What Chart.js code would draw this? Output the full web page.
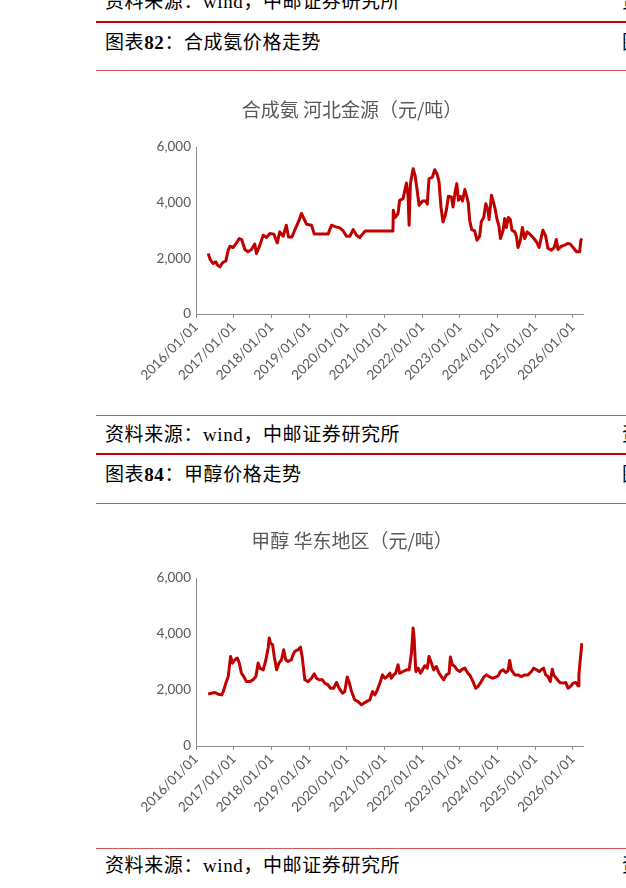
<!DOCTYPE html>
<html>
<head>
<meta charset="utf-8">
<script src="https://cdn.jsdelivr.net/npm/chart.js@4.4.1/dist/chart.umd.min.js"></script>
<style>
html, body { margin: 0; padding: 0; background: #fff; overflow: hidden; }
body { width: 626px; height: 888px; position: relative; font-family: "Liberation Serif", "Noto Sans CJK SC", serif; color: #000; }
.txt { position: absolute; font-size: 19px; line-height: 24px; white-space: nowrap; letter-spacing: 0.6px; }
.rule { position: absolute; left: 96px; width: 540px; }
.thick { height: 2px; background: #c00000; }
.thin { height: 1px; background: #d65a5a; }
.box { position: absolute; }
</style>
</head>
<body>

<div class="txt" style="left:105px; top:-10px;">资料来源：wind，中邮证券研究所</div>
<div class="txt" style="left:622px; top:-10px;">资料</div>
<div class="rule thick" style="top:21px;"></div>
<div class="txt" style="left:105px; top:31px;">图表<b>82</b>：合成氨价格走势</div>
<div class="txt" style="left:622px; top:31px;">图表</div>
<div class="rule thin" style="top:70px;"></div>

<div class="box" style="left:96px; top:86px;"><canvas id="c1" width="512" height="310"></canvas></div>

<div class="rule thin" style="top:415px;"></div>
<div class="txt" style="left:105px; top:423px;">资料来源：wind，中邮证券研究所</div>
<div class="txt" style="left:622px; top:423px;">资料</div>
<div class="rule thick" style="top:453px;"></div>
<div class="txt" style="left:105px; top:463px;">图表<b>84</b>：甲醇价格走势</div>
<div class="txt" style="left:622px; top:463px;">图表</div>
<div class="rule thin" style="top:503px;"></div>

<div class="box" style="left:96px; top:517px;"><canvas id="c2" width="512" height="311"></canvas></div>

<div class="rule thin" style="top:848px;"></div>
<div class="txt" style="left:105px; top:854px;">资料来源：wind，中邮证券研究所</div>
<div class="txt" style="left:622px; top:854px;">资料</div>

<script>
// x axis labels (one per year)
const yearTicks = ['2016/01/01', '2017/01/01', '2018/01/01', '2019/01/01', '2020/01/01', '2021/01/01',
    '2022/01/01', '2023/01/01', '2024/01/01', '2025/01/01', '2026/01/01'];
const yTicks = [0, 2000, 4000, 6000];

// 合成氨 河北金源
const nh3Dates = [
    '2016-04-28', '2016-05-21', '2016-06-16', '2016-07-12', '2016-07-28', '2016-08-20', '2016-09-15', '2016-10-17',
    '2016-11-09', '2016-11-25', '2016-12-27', '2017-01-29', '2017-02-24', '2017-03-20', '2017-04-19', '2017-05-20',
    '2017-06-22', '2017-07-24', '2017-08-10', '2017-09-12', '2017-10-14', '2017-11-15', '2017-12-17', '2018-01-25',
    '2018-02-27', '2018-03-23', '2018-04-25', '2018-05-26', '2018-06-16', '2018-07-20', '2018-08-22', '2018-09-24',
    '2018-10-19', '2018-11-12', '2018-12-07', '2019-01-25', '2019-02-21', '2019-07-04', '2019-08-06', '2019-09-18',
    '2019-10-26', '2019-11-28', '2019-12-29', '2020-02-01', '2020-03-03', '2020-04-05', '2020-05-07', '2020-06-02',
    '2020-06-28', '2021-03-25', '2021-03-28', '2021-04-14', '2021-05-13', '2021-05-29', '2021-07-01', '2021-08-02',
    '2021-08-18', '2021-08-28', '2021-09-10', '2021-10-06', '2021-10-25', '2021-11-14', '2021-12-03', '2022-01-05',
    '2022-02-07', '2022-02-20', '2022-03-09', '2022-04-11', '2022-05-03', '2022-05-25', '2022-06-14', '2022-07-03',
    '2022-07-22', '2022-08-11', '2022-08-24', '2022-09-13', '2022-10-12', '2022-10-28', '2022-11-17', '2022-12-03',
    '2022-12-19', '2023-01-08', '2023-01-27', '2023-02-19', '2023-03-11', '2023-03-24', '2023-04-07', '2023-04-26',
    '2023-05-25', '2023-06-17', '2023-07-13', '2023-07-28', '2023-08-21', '2023-09-10', '2023-09-29', '2023-10-12',
    '2023-11-04', '2023-11-20', '2023-12-09', '2023-12-28', '2024-01-14', '2024-01-30', '2024-02-25', '2024-03-11',
    '2024-03-27', '2024-04-16', '2024-05-05', '2024-05-21', '2024-06-17', '2024-07-03', '2024-07-19', '2024-08-11',
    '2024-08-30', '2024-09-22', '2024-10-15', '2024-11-10', '2024-12-12', '2025-01-14', '2025-02-09', '2025-03-01',
    '2025-03-17', '2025-04-13', '2025-05-05', '2025-06-07', '2025-07-06', '2025-07-25', '2025-08-10', '2025-09-13',
    '2025-10-14', '2025-11-16', '2025-12-08', '2026-01-04', '2026-02-06', '2026-03-08', '2026-03-20', '2026-03-30'
];
const nh3Values = [
    2175, 1935, 1815, 1875, 1755, 1695, 1840, 1910,
    2295, 2435, 2390, 2555, 2710, 2675, 2320, 2235,
    2320, 2510, 2175, 2475, 2830, 2750, 2890, 2870,
    2555, 2950, 2795, 3190, 2770, 2770, 3070, 3345,
    3610, 3430, 3225, 3190, 2870, 2870, 3190, 3130,
    3095, 2985, 2795, 2795, 3035, 2830, 2750, 2870,
    2985, 2985, 3730, 3465, 3610, 4085, 4145, 4705,
    4265, 3190, 4685, 5220, 4980, 4445, 3905, 4060,
    4060, 3945, 4860, 4920, 5185, 5040, 4745, 3845,
    3310, 3515, 3730, 4230, 4205, 3845, 4385, 4685,
    4085, 4230, 4060, 4470, 4205, 3990, 3370, 3035,
    2985, 2650, 2795, 3310, 3465, 3965, 3750, 3395,
    4265, 4060, 3785, 3395, 3190, 2710, 3010, 3430,
    3105, 3465, 3395, 3010, 2950, 2795, 2390, 2650,
    3105, 2710, 2950, 2870, 2750, 2595, 2390, 2750,
    3010, 2795, 2355, 2295, 2390, 2675, 2320, 2435,
    2475, 2535, 2510, 2390, 2235, 2235, 2650, 2710
];

// 甲醇 华东地区
const methDates = [
    '2016-04-28', '2016-07-02', '2016-08-04', '2016-09-06', '2016-09-22', '2016-10-17', '2016-11-09', '2016-12-02',
    '2016-12-21', '2017-01-13', '2017-02-05', '2017-02-24', '2017-03-17', '2017-04-09', '2017-05-04', '2017-06-06',
    '2017-07-08', '2017-08-04', '2017-08-26', '2017-09-12', '2017-10-14', '2017-11-09', '2017-12-01', '2017-12-11',
    '2017-12-24', '2018-01-13', '2018-01-29', '2018-02-21', '2018-03-16', '2018-04-09', '2018-05-01', '2018-05-20',
    '2018-06-12', '2018-07-14', '2018-07-30', '2018-08-16', '2018-09-18', '2018-10-10', '2018-10-26', '2018-11-21',
    '2018-12-23', '2019-01-25', '2019-02-21', '2019-03-13', '2019-04-08', '2019-05-10', '2019-06-02', '2019-07-04',
    '2019-07-26', '2019-08-28', '2019-09-24', '2019-10-19', '2019-11-21', '2019-12-13', '2020-01-06', '2020-01-25',
    '2020-02-17', '2020-03-19', '2020-04-21', '2020-05-23', '2020-06-15', '2020-07-10', '2020-08-12', '2020-09-07',
    '2020-09-30', '2020-10-22', '2020-11-18', '2020-12-13', '2021-01-05', '2021-01-28', '2021-02-23', '2021-03-09',
    '2021-04-01', '2021-04-20', '2021-05-13', '2021-05-29', '2021-07-01', '2021-08-02', '2021-08-28', '2021-09-20',
    '2021-10-06', '2021-10-16', '2021-11-01', '2021-11-24', '2021-12-16', '2022-01-05', '2022-01-27', '2022-02-20',
    '2022-03-09', '2022-04-01', '2022-04-23', '2022-05-19', '2022-06-14', '2022-07-07', '2022-07-29', '2022-08-24',
    '2022-09-20', '2022-10-02', '2022-10-22', '2022-11-14', '2022-12-06', '2023-01-01', '2023-01-27', '2023-02-19',
    '2023-03-21', '2023-04-13', '2023-05-09', '2023-06-04', '2023-06-27', '2023-07-28', '2023-08-21', '2023-09-16',
    '2023-10-12', '2023-11-14', '2023-12-15', '2024-01-07', '2024-01-30', '2024-02-25', '2024-03-21', '2024-04-13',
    '2024-04-29', '2024-05-15', '2024-06-17', '2024-07-19', '2024-08-20', '2024-09-22', '2024-10-24', '2024-11-26',
    '2024-12-18', '2025-01-14', '2025-02-09', '2025-03-01', '2025-03-24', '2025-04-13', '2025-05-05', '2025-05-28',
    '2025-06-16', '2025-06-29', '2025-07-25', '2025-08-26', '2025-09-28', '2025-10-24', '2025-11-16', '2025-12-08',
    '2026-01-04', '2026-01-29', '2026-02-22', '2026-03-01', '2026-03-14', '2026-03-30'
];
const methValues = [
    1860, 1910, 1850, 1825, 1945, 2245, 2480, 3200,
    2960, 3080, 3140, 2960, 2600, 2480, 2300, 2300,
    2365, 2480, 2960, 2780, 2720, 3080, 3500, 3855,
    3670, 3615, 3200, 2720, 2960, 3080, 3440, 3080,
    3020, 3080, 3260, 3380, 3440, 3530, 3200, 2365,
    2300, 2420, 2580, 2420, 2365, 2365, 2245, 2185,
    2065, 2065, 2270, 2065, 1885, 1945, 2460, 2270,
    1945, 1645, 1585, 1470, 1530, 1585, 1645, 1945,
    1825, 1980, 2245, 2540, 2420, 2480, 2600, 2420,
    2540, 2600, 2900, 2600, 2660, 2720, 2720, 3320,
    4210, 3855, 2660, 2780, 2600, 2720, 2865, 2780,
    3200, 2960, 2720, 2840, 2600, 2480, 2365, 2540,
    2600, 3175, 2900, 2840, 2720, 2660, 2745, 2780,
    2600, 2505, 2300, 2065, 2125, 2300, 2460, 2540,
    2480, 2420, 2460, 2505, 2660, 2720, 2625, 2695,
    3055, 2720, 2540, 2540, 2480, 2540, 2540, 2660,
    2780, 2720, 2660, 2720, 2780, 2540, 2480, 2300,
    2745, 2540, 2420, 2270, 2245, 2270, 2065, 2125,
    2245, 2270, 2150, 2540, 3080, 3675
];

// date string -> fractional year for the linear x scale
const toYear = (s) => {
    const [y, m, d] = s.split(/[-\/]/).map(Number);
    const start = Date.UTC(y, 0, 1);
    const end = Date.UTC(y + 1, 0, 1);
    return y + (Date.UTC(y, m - 1, d) - start) / (end - start);
};

const grey = '#595959';
const tickFont = {family: 'Lato, "Noto Sans", sans-serif', size: 13.5};

const priceChart = (id, title, dates, values) => {
    const ctx = document.getElementById(id).getContext('2d');
    return new Chart(ctx, {
        type: 'line',
        data: {
            datasets: [{
                data: dates.map((d, i) => ({x: toYear(d), y: values[i]})),
                borderColor: '#c00000',
                borderWidth: 3,
                pointRadius: 0,
                tension: 0,
                borderJoinStyle: 'round'
            }]
        },
        options: {
            responsive: false,
            animation: false,
            devicePixelRatio: 1,
            layout: {padding: {left: 25, right: 25, top: 0, bottom: 0}},
            plugins: {
                legend: {display: false},
                tooltip: {enabled: false},
                title: {
                    display: true,
                    text: title,
                    color: grey,
                    font: {family: '"Noto Sans CJK SC", sans-serif', size: 19, weight: 'normal'},
                    padding: {top: 12.5, bottom: 25.7}
                }
            },
            scales: {
                x: {
                    type: 'linear',
                    min: toYear(yearTicks[0]),
                    max: 2026.27,
                    afterBuildTicks: (scale) => {
                        scale.ticks = yearTicks.map(t => ({value: toYear(t)}));
                    },
                    afterFit: (scale) => { scale.height = 82; },
                    ticks: {
                        autoSkip: false,
                        minRotation: 45,
                        maxRotation: 45,
                        color: grey,
                        font: tickFont,
                        padding: 1,
                        callback: (v, i) => yearTicks[i]
                    },
                    grid: {drawOnChartArea: false, drawTicks: true, tickLength: 4, color: '#8c8c8c'},
                    border: {color: '#8c8c8c', width: 1}
                },
                y: {
                    min: yTicks[0],
                    max: yTicks[yTicks.length - 1],
                    afterBuildTicks: (scale) => {
                        scale.ticks = yTicks.map(v => ({value: v}));
                    },
                    afterFit: (scale) => { scale.width = 75; },
                    ticks: {
                        color: grey,
                        font: tickFont,
                        padding: 5,
                        callback: (v) => v.toLocaleString('en-US')
                    },
                    grid: {display: false, drawTicks: false},
                    border: {color: '#8c8c8c', width: 1}
                }
            }
        }
    });
};

priceChart('c1', '合成氨 河北金源（元/吨）', nh3Dates, nh3Values);
priceChart('c2', '甲醇 华东地区（元/吨）', methDates, methValues);
</script>
</body>
</html>
